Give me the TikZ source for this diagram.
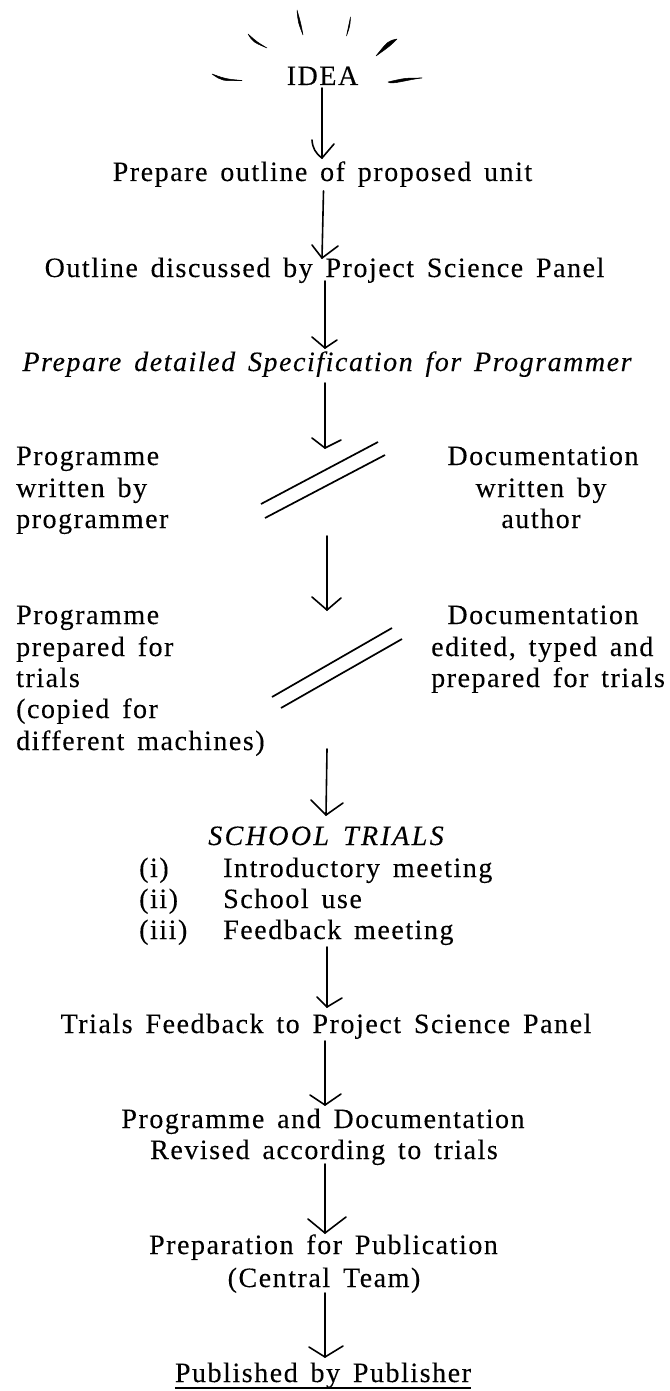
\documentclass[tikz,border=0pt]{standalone}
\usepackage{fontspec}
\setmainfont{Liberation Serif}
\newfontfamily\spaced[LetterSpace=5.5,WordSpace=1.5,FakeBold=0.15]{Liberation Serif}
\newfontfamily\spacedcaps[LetterSpace=8.5,WordSpace=1.5,FakeBold=0.15]{Liberation Serif}
\tikzset{
  lab/.style={inner sep=0pt,anchor=base,font=\fontsize{28}{28}\selectfont\spaced},
  labl/.style={lab,anchor=base west},
  link/.style={line width=1.6pt,line cap=round},
  bar/.style={line width=1.7pt},
  ray/.style={fill=black,draw=black,line width=0.5pt,line join=round}
}
\begin{document}
\begin{tikzpicture}[x=1pt,y=-1pt]
\useasboundingbox (0,0) rectangle (669,1391);
\fill[white] (0,0) rectangle (669,1391);
\node[lab] (idea) at (322.5,85) {IDEA};
\path[ray] (297,10) .. controls (298,22) .. (303,35) .. controls (301,24) .. (297,10) -- cycle;
\path[ray] (350.5,17) .. controls (350,26) .. (346.5,36) .. controls (348,26) .. (350.5,17) -- cycle;
\path[ray] (248,34) .. controls (253,42) .. (267,48) .. controls (257,42) .. (248,34) -- cycle;
\path[ray] (397,39) .. controls (388,41) .. (376,56) .. controls (390,46) .. (397,39) -- cycle;
\path[ray] (212,74) .. controls (222,81) .. (242,80.5) .. controls (226,79) .. (212,74) -- cycle;
\path[ray] (422,78) .. controls (405,78) .. (388,82) .. controls (392,85) and (405,80) .. (422,78) -- cycle;
\node[lab] (a1) at (322.5,181) {Prepare outline of proposed unit};
\node[lab] (a2) at (324.5,277) {Outline discussed by Project Science Panel};
\node[lab] (a3) at (327,371) {\itshape Prepare detailed Specification for Programmer};
\node[labl] (p1a) at (16,465) {Programme};
\node[labl] (p1b) at (16,497) {written by};
\node[labl] (p1c) at (16,528) {programmer};
\node[lab] (d1a) at (543,465) {Documentation};
\node[lab] (d1b) at (541,497) {written by};
\node[lab] (d1c) at (541,528) {author};
\node[labl] (p2a) at (16,624) {Programme};
\node[labl] (p2b) at (16,656) {prepared for};
\node[labl] (p2c) at (16,687) {trials};
\node[labl] (p2d) at (16,718) {(copied for};
\node[labl] (p2e) at (16,750) {different machines)};
\node[lab] (d2a) at (543,624) {Documentation};
\node[labl] (d2b) at (431,656) {edited, typed and};
\node[labl] (d2c) at (431,687) {prepared for trials};
\node[lab] (s) at (326,845) {\spacedcaps\itshape SCHOOL TRIALS};
\node[labl] (s1a) at (139,877) {(i)};
\node[labl] (s1b) at (223,877) {Introductory meeting};
\node[labl] (s2a) at (139,908) {(ii)};
\node[labl] (s2b) at (223,908) {School use};
\node[labl] (s3a) at (139,939) {(iii)};
\node[labl] (s3b) at (223,939) {Feedback meeting};
\node[lab] (f) at (326,1033) {Trials Feedback to Project Science Panel};
\node[lab] (r1) at (323,1128) {Programme and Documentation};
\node[lab] (r2) at (324,1159) {Revised according to trials};
\node[lab] (q1) at (323.5,1254) {Preparation for Publication};
\node[lab] (q2) at (324,1287) {(Central Team)};
\node[lab] (pub) at (323,1382) {Published by Publisher};
\draw[line width=1.6pt] ([yshift=-6pt]pub.base west) -- ([yshift=-6pt]pub.base east);
% arrows
\coordinate (t1) at (322,158);
\draw[link] (322,88) -- (t1); \draw[link] (312,140) to[bend right=25] (t1) -- (334,144);
\coordinate (t2) at (322,258);
\draw[link] (323.5,191) -- (t2); \draw[link] (312,245) -- (t2) -- (338,246);
\coordinate (t3) at (325,348);
\draw[link] (325,281) -- (t3); \draw[link] (312,337) -- (t3) -- (337,340);
\coordinate (t4) at (325,448);
\draw[link] (325,383) -- (t4); \draw[link] (312,438) -- (t4) -- (341,440);
\draw[bar] (378,442) -- (261,504);
\draw[bar] (385,455) -- (265,518);
\coordinate (t5) at (327,610);
\draw[link] (327,536) -- (t5); \draw[link] (312,597) -- (t5) -- (341,598);
\draw[bar] (392,628) -- (272,697);
\draw[bar] (402,639) -- (281,708);
\coordinate (t6) at (326,815);
\draw[link] (327,749) -- (t6); \draw[link] (311,800) -- (t6) -- (343,803);
\coordinate (t7) at (327,1007);
\draw[link] (327,947) -- (t7); \draw[link] (317,997) -- (t7) -- (342,998);
\coordinate (t8) at (325,1105);
\draw[link] (325,1041) -- (t8); \draw[link] (310,1095) -- (t8) -- (341,1094);
\coordinate (t9) at (325,1233);
\draw[link] (325,1164) -- (t9); \draw[link] (308,1219) -- (t9) -- (346,1217);
\coordinate (t10) at (325,1357);
\draw[link] (325,1293) -- (t10); \draw[link] (309,1347) -- (t10) -- (343,1346);
\end{tikzpicture}
\end{document}
